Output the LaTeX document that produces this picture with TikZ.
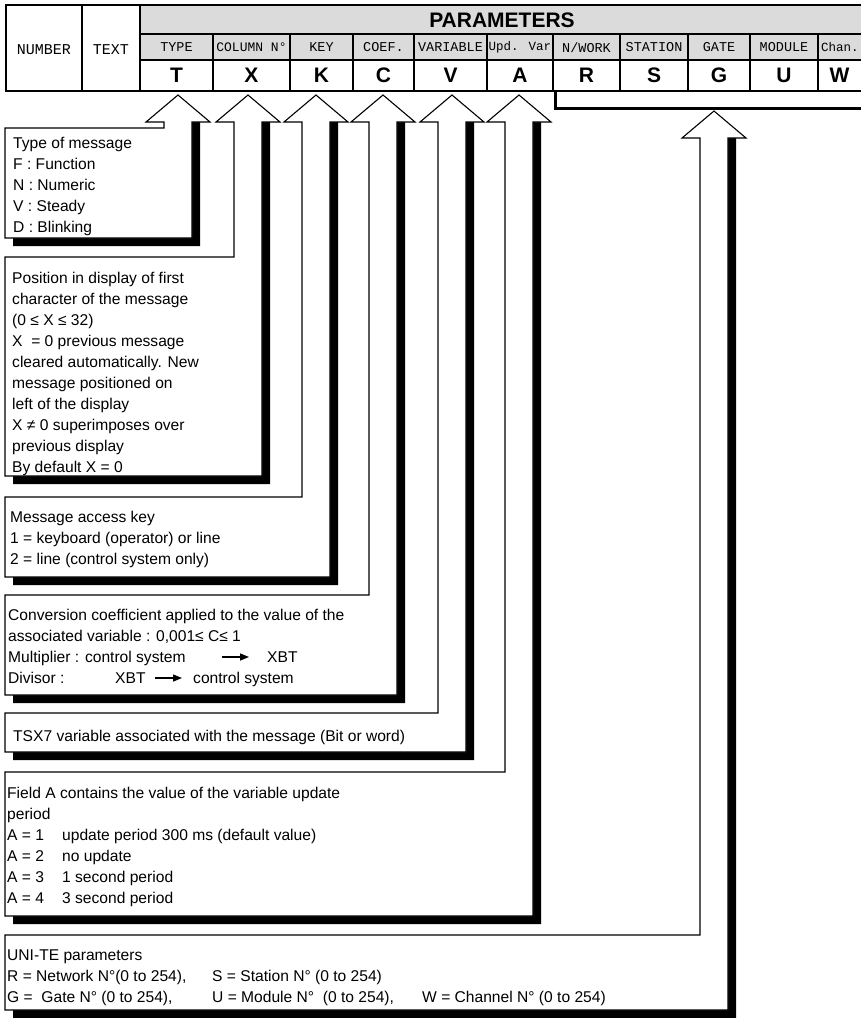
\documentclass[tikz,border=0pt]{standalone}
\usepackage{fontspec}
\setmainfont{Liberation Sans}
\newfontfamily\monofont{Liberation Mono}
\usetikzlibrary{arrows.meta}

% #1 shaft centre x, #2 tip y, #3 box top, #4 box bottom
\newcommand{\mycallout}[4]{%
  \fill[black] (#1+14,#2+27) -- (#1+22,#2+27) -- (#1+22,#4+8) -- (13,#4+8) -- (13,#4) -- (#1+14,#4) -- cycle;
  \draw[boxline] (5,#3) -- (#1-14,#3) -- (#1-14,#2+27) -- (#1-32,#2+27) -- (#1,#2)
     -- (#1+32,#2+27) -- (#1+14,#2+27) -- (#1+14,#4) -- (5,#4) -- cycle;
}

\begin{document}
\begin{tikzpicture}[x=1pt,y=-1pt,
  boxline/.style={draw=black, line width=1.1pt, fill=white, line join=miter},
  tline/.style={line width=1.6pt},
  lbl/.style={font=\monofont\fontsize{13.5}{14}\selectfont, inner sep=0pt},
  hdr/.style={font=\monofont\fontsize{15}{16}\selectfont, inner sep=0pt},
  ltr/.style={font=\bfseries\fontsize{21}{22}\selectfont, inner sep=0pt},
  txt/.style={font=\fontsize{15.6}{18}\selectfont, inner sep=0pt, anchor=base west},
  txtarrow/.style={line width=1.4pt, -{Triangle[length=9pt,width=7pt]}},
]
\useasboundingbox (0,0) rectangle (861,1018);
\fill[white] (0,0) rectangle (861,1018);

% ---------- header table ----------
\fill[black!14] (140,5) rectangle (861,60);
\draw[tline] (861,5) -- (6,5) -- (6,91) -- (861,91);
\draw[tline] (82,5) -- (82,91);
\draw[tline] (140,5) -- (140,91);
\draw[tline] (140,34) -- (861,34);
\draw[tline] (140,60) -- (861,60);
\foreach \x in {213,290,353,414,487,553,620,688,750,818} \draw[tline] (\x,34) -- (\x,91);

\node[hdr] (hNumber) at (44,50) {NUMBER};
\node[hdr] (hText) at (111,50) {TEXT};
\node[font=\bfseries\fontsize{21}{22}\selectfont, inner sep=0pt] (hParams) at (502,20) {PARAMETERS};

\node[lbl] (lType) at (176.5,47.5) {TYPE};
\node[lbl,font=\monofont\fontsize{13}{14}\selectfont] (lCol) at (251.5,47.5) {COLUMN N°};
\node[lbl] (lKey) at (321.5,47.5) {KEY};
\node[lbl] (lCoef) at (383.5,47.5) {COEF.};
\node[lbl] (lVar) at (450.5,47.5) {VARIABLE};
\node[lbl,font=\monofont\fontsize{12.5}{14}\selectfont] (lUpd) at (520,47.5) {Upd. Var};
\node[lbl] (lNet) at (586.5,47.5) {N/WORK};
\node[lbl] (lSta) at (654,47.5) {STATION};
\node[lbl] (lGate) at (719,47.5) {GATE};
\node[lbl] (lMod) at (784,47.5) {MODULE};
\node[lbl,font=\monofont\fontsize{12.5}{14}\selectfont,anchor=west] (lChan) at (821,47.5) {Chan.};

\node[ltr] (cT) at (176.5,75) {T};
\node[ltr] (cX) at (251.5,75) {X};
\node[ltr] (cK) at (321.5,75) {K};
\node[ltr] (cC) at (383.5,75) {C};
\node[ltr] (cV) at (450.5,75) {V};
\node[ltr] (cA) at (520,75) {A};
\node[ltr] (cR) at (586.5,75) {R};
\node[ltr] (cS) at (654,75) {S};
\node[ltr] (cG) at (719,75) {G};
\node[ltr] (cU) at (784,75) {U};
\node[ltr] (cW) at (839.5,75) {W};

% bracket under R..W
\coordinate (brA) at (555,91);
\coordinate (brB) at (555,108);
\coordinate (brC) at (861,108);
\draw[line width=3pt] (brA) -- (brB) -- (brC);

% ---------- callout boxes ----------
\mycallout{178}{95}{128}{238}
\mycallout{248}{95}{257}{476}
\mycallout{316}{95}{497}{577}
\mycallout{383}{95}{595}{695}
\mycallout{452}{95}{713}{752}
\mycallout{519}{95}{772}{916}
\mycallout{714}{111}{935}{1010}

% box 1
\node[txt] (b1a) at (13,148) {Type of message};
\node[txt] (b1b) at (13,169) {F : Function};
\node[txt] (b1c) at (13,190) {N : Numeric};
\node[txt] (b1d) at (13,211) {V : Steady};
\node[txt] (b1e) at (13,232) {D : Blinking};

% box 2
\node[txt] (b2a) at (12,283) {Position in display of first};
\node[txt] (b2b) at (12,304.1) {character of the message};
\node[txt] (b2c) at (12,325.2) {(0 ≤ X ≤ 32)};
\node[txt] (b2d) at (12,346.3) {X \ = 0 previous message};
\node[txt] (b2e) at (12,367.4) {cleared automatically. New};
\node[txt] (b2f) at (12,388.5) {message positioned on};
\node[txt] (b2g) at (12,409.6) {left of the display};
\node[txt] (b2h) at (12,430.7) {X ≠ 0 superimposes over};
\node[txt] (b2i) at (12,451.8) {previous display};
\node[txt] (b2j) at (12,472.9) {By default X = 0};

% box 3
\node[txt] (b3a) at (10,522) {Message access key};
\node[txt] (b3b) at (10,543) {1 = keyboard (operator) or line};
\node[txt] (b3c) at (10,564) {2 = line (control system only)};

% box 4
\node[txt] (b4a) at (8,620) {Conversion coefficient applied to the value of the};
\node[txt] (b4b) at (8,641) {associated variable : 0,001≤ C≤ 1};
\node[txt] (b4c) at (8,662) {Multiplier : control system};
\node[txt] (b4d) at (267,662) {XBT};
\node[txt] (b4e) at (8,683) {Divisor :};
\node[txt] (b4f) at (115,683) {XBT};
\node[txt] (b4g) at (193,683) {control system};
\coordinate (a1s) at (222,657);
\coordinate (a1e) at (249,657);
\coordinate (a2s) at (155,678);
\coordinate (a2e) at (182,678);
\draw[txtarrow] (a1s) -- (a1e);
\draw[txtarrow] (a2s) -- (a2e);

% box 5
\node[txt] (b5a) at (13,741) {TSX7 variable associated with the message (Bit or word)};

% box 6
\node[txt] (b6a) at (7,798) {Field A contains the value of the variable update};
\node[txt] (b6b) at (7,819) {period};
\node[txt] (b6c) at (7,840) {A = 1};
\node[txt] (b6c2) at (62,840) {update period 300 ms (default value)};
\node[txt] (b6d) at (7,861) {A = 2};
\node[txt] (b6d2) at (62,861) {no update};
\node[txt] (b6e) at (7,882) {A = 3};
\node[txt] (b6e2) at (62,882) {1 second period};
\node[txt] (b6f) at (7,903) {A = 4};
\node[txt] (b6f2) at (62,903) {3 second period};

% box 7
\node[txt] (b7a) at (7,960) {UNI-TE parameters};
\node[txt] (b7b) at (7,981) {R = Network N°(0 to 254),};
\node[txt] (b7b2) at (212,981) {S = Station N° (0 to 254)};
\node[txt] (b7c) at (7,1002) {G = \ Gate N° (0 to 254),};
\node[txt] (b7c2) at (212,1002) {U = Module N° \ (0 to 254),};
\node[txt] (b7c3) at (422,1002) {W = Channel N° (0 to 254)};
\end{tikzpicture}
\end{document}
